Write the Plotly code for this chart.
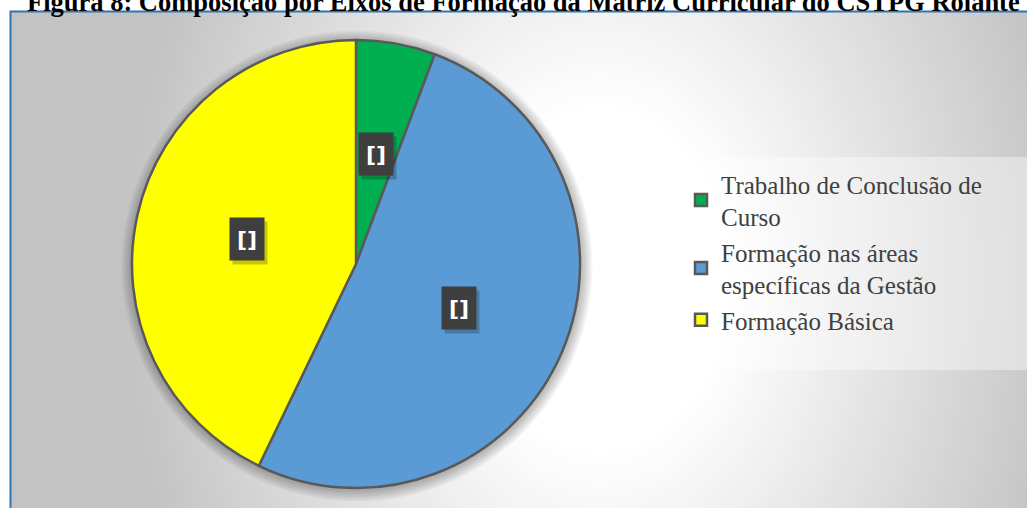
import math
import plotly.graph_objects as go

# ---------------- data ----------------
categories = [
    "Trabalho de Conclusão de<br>Curso",
    "Formação nas áreas<br>específicas da Gestão",
    "Formação Básica",
]
hours = [160, 1440, 1200]
slice_colors = ["#00B050", "#5B9BD5", "#FFFF00"]
label_text = ["[]", "[]", "[]"]
title_text = "Figura 8: Composição por Eixos de Formação da Matriz Curricular do CSTPG Rolante"

# ---------------- geometry (pixels) ----------------
W, H = 1027, 508
CX, CY, R = 356, 264, 224


def fx(px):
    return px / W


def fy(py):
    return 1 - py / H


shapes = []

# radial background gradient
gcx, gcy, ay = 600, 280, 0.75
r0, r1, cmin = 130, 480, 195
shapes.append(dict(type="rect", xref="paper", yref="paper", x0=0, x1=1, y0=0, y1=1,
                   fillcolor="rgb(%d,%d,%d)" % (cmin, cmin, cmin), line=dict(width=0), layer="below"))
N = 70
for k in range(N + 1):
    r = r1 - (r1 - r0) * k / N
    c = int(round(255 - (255 - cmin) * (r - r0) / (r1 - r0)))
    ry = r / ay
    shapes.append(dict(type="circle", xref="paper", yref="paper",
                       x0=fx(gcx - r), x1=fx(gcx + r), y0=fy(gcy + ry), y1=fy(gcy - ry),
                       fillcolor="rgb(%d,%d,%d)" % (c, c, c), line=dict(width=0), layer="below"))

# soft pie shadow
for k in range(8):
    rr = R + 1 + k * 1.5
    shapes.append(dict(type="circle", xref="paper", yref="paper",
                       x0=fx(CX + 1 - rr), x1=fx(CX + 1 + rr), y0=fy(CY + 2 + rr), y1=fy(CY + 2 - rr),
                       fillcolor="rgba(0,0,0,0.035)", line=dict(width=0), layer="below"))

# white margins outside the chart frame
shapes.append(dict(type="rect", xref="paper", yref="paper", x0=0, x1=fx(10), y0=0, y1=1,
                   fillcolor="white", line=dict(width=0), layer="below"))
shapes.append(dict(type="rect", xref="paper", yref="paper", x0=0, x1=1, y0=fy(11), y1=1,
                   fillcolor="white", line=dict(width=0), layer="below"))

# legend panel
shapes.append(dict(type="rect", xref="paper", yref="paper", x0=fx(672), x1=fx(1030), y0=fy(370), y1=fy(157),
                   fillcolor="rgba(255,255,255,0.4)", line=dict(width=0), layer="below"))

# chart frame
shapes.append(dict(type="rect", xref="paper", yref="paper", x0=fx(10.5), x1=fx(1040), y0=fy(520), y1=fy(11.5),
                   fillcolor="rgba(0,0,0,0)", line=dict(color="#2E75B6", width=2), layer="above"))

fig = go.Figure()
fig.add_trace(go.Pie(
    labels=categories,
    values=hours,
    sort=False,
    direction="clockwise",
    rotation=0,
    textinfo="none",
    hoverinfo="label+value+percent",
    marker=dict(colors=slice_colors, line=dict(color="#595959", width=2.5)),
    domain=dict(x=[fx(CX - R), fx(CX + R)], y=[fy(CY + R), fy(CY - R)]),
    showlegend=True,
))

# data label boxes at the middle of each slice
annotations = []
total = sum(hours)
cum = 0
for v, t in zip(hours, label_text):
    mid = (cum + v / 2) / total * 2 * math.pi
    cum += v
    lx = CX + 0.5 * R * math.sin(mid)
    ly = CY - 0.5 * R * math.cos(mid)
    annotations.append(dict(xref="paper", yref="paper", x=fx(lx), y=fy(ly), text=" ",
                            xanchor="center", yanchor="middle",
                            showarrow=False, width=34, height=42, xshift=3, yshift=-4,
                            bgcolor="rgba(0,0,0,0.22)", borderpad=0))
    annotations.append(dict(xref="paper", yref="paper", x=fx(lx), y=fy(ly), text="<b>%s</b>" % t,
                            xanchor="center", yanchor="middle",
                            showarrow=False, width=34, height=42, bgcolor="#3F3F3F", borderpad=0,
                            font=dict(family="DejaVu Sans", size=22, color="white")))

annotations.append(dict(xref="paper", yref="paper", x=fx(523), y=1, xanchor="center", yanchor="bottom",
                        yshift=-19, text="<b>%s</b>" % title_text, showarrow=False,
                        font=dict(family="Liberation Serif", size=26.5, color="black")))

fig.update_layout(
    width=W, height=H,
    margin=dict(l=0, r=0, t=0, b=0),
    paper_bgcolor="white",
    shapes=shapes,
    annotations=annotations,
    legend=dict(x=fx(681), y=fy(161), xanchor="left", yanchor="top",
                bgcolor="rgba(0,0,0,0)",
                font=dict(family="Liberation Serif", size=25, color="#404040"),
                itemwidth=30),
)

fig.write_html("out.html", config={"displayModeBar": False},
               post_script="document.body.style.margin='0';document.body.style.overflow='hidden';")
